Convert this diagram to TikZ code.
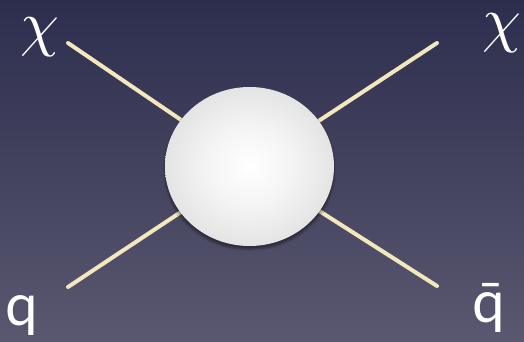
\documentclass[tikz,border=0pt]{standalone}
\usepackage{fontspec}
\newfontfamily\lbl{Lato}
\usetikzlibrary{shapes.geometric,backgrounds,shadows.blur}
\definecolor{bgtop}{HTML}{2D2E4E}
\definecolor{bgbot}{HTML}{5A5870}
\definecolor{linecol}{HTML}{F3E7BC}
\definecolor{ballrim}{HTML}{C4C4C4}
\pgfdeclareradialshading{ballshade}{\pgfpoint{0bp}{0bp}}{color(0bp)=(white); color(12bp)=(white!96!black); color(50bp)=(ballrim); color(72bp)=(ballrim)}
\tikzset{
  leg/.style={draw=linecol, line width=4pt, line cap=round},
  ball/.style={ellipse, minimum width=169pt, minimum height=159pt, inner sep=0pt,
    shading=ballshade, blur shadow={shadow xshift=0pt, shadow yshift=-3pt, shadow blur steps=10, shadow blur extra rounding=3pt, shadow opacity=40}},
  chilbl/.style={text=white, inner sep=0pt, scale=6.2, line width=0.12pt, draw=none},
  qlbl/.style={text=white, inner sep=0pt, font=\lbl\fontsize{58}{58}\selectfont}
}
\begin{document}
\begin{tikzpicture}[x=1pt,y=-1pt]
\useasboundingbox (0,0) rectangle (524,342);
\node[ball] (blob) at (249.5,166.5) {};
\coordinate (tl) at (68,43);
\coordinate (tr) at (437,43);
\coordinate (bl) at (68,287);
\coordinate (br) at (437,286);
\begin{pgfonlayer}{background}
\shade[top color=bgtop, bottom color=bgbot] (0,0) rectangle (524,342);
\draw[leg] (tl) -- (blob.center);
\draw[leg] (tr) -- (blob.center);
\draw[leg] (bl) -- (blob.center);
\draw[leg] (br) -- (blob.center);
\end{pgfonlayer}
\node[chilbl] (chi1) at (40,37) {$\chi$};
\node[chilbl] (chi2) at (502,33) {$\chi$};
\node[qlbl, anchor=base] (q) at (22,325) {q};
\node[qlbl, anchor=base] (qbar) at (489,322) {\=q};
\end{tikzpicture}
\end{document}
